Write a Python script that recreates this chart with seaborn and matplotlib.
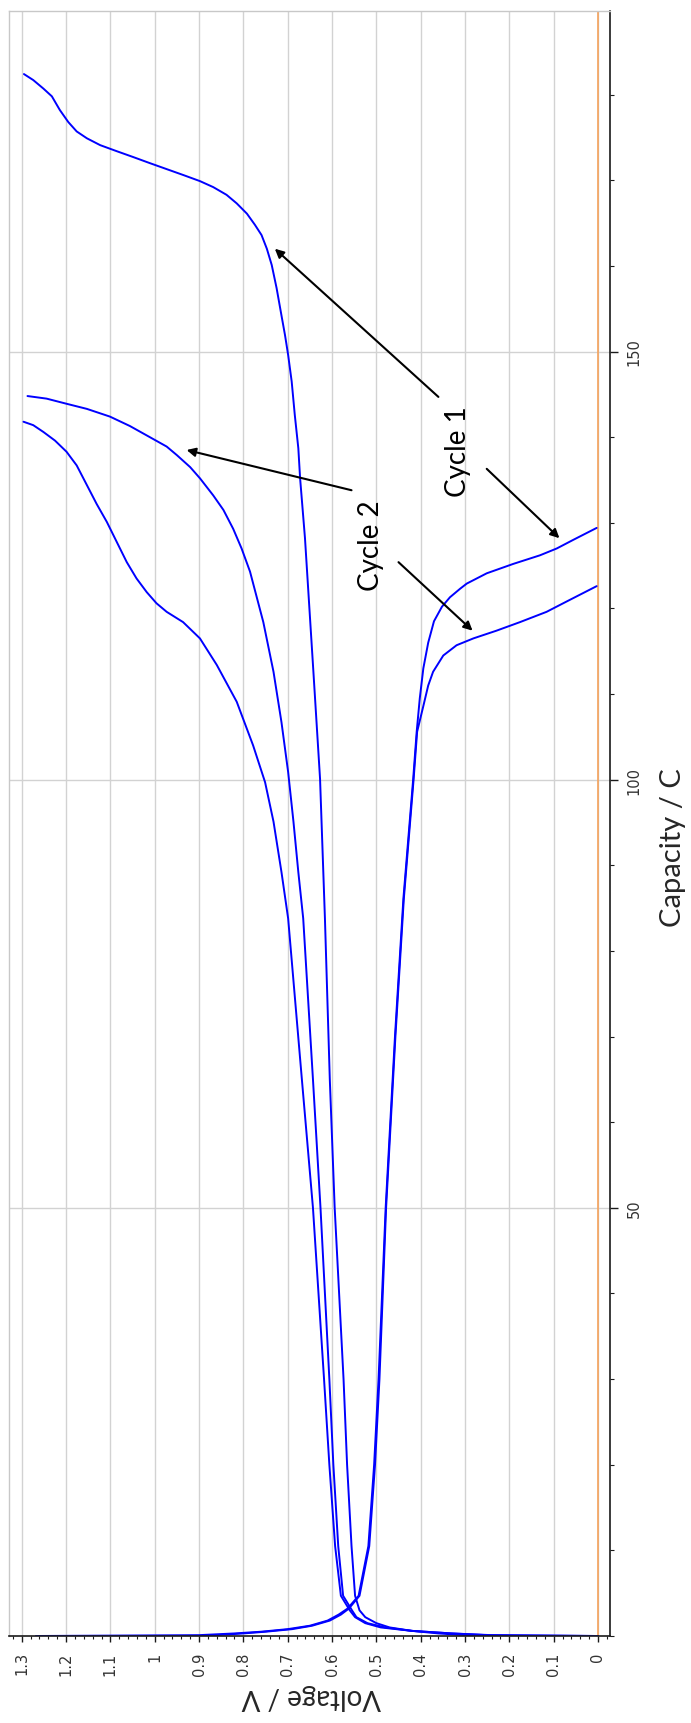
import numpy as np
import pandas as pd
import matplotlib
matplotlib.use("Agg")
import matplotlib.pyplot as plt
from matplotlib.ticker import MultipleLocator, FixedLocator
import seaborn as sns

# ---- charge / discharge curves: capacity (C) and voltage (V) ----
c1_charge_cap = [0, 0.1, 0.3, 0.6, 1.0, 1.5, 2.2, 3.0, 4.7, 10.5, 20, 30, 50, 65, 83.8,
                 100.1, 112.6, 128.2, 135.2, 138.7, 142.6, 146.5, 149.6, 151.9, 154.2,
                 157.4, 160.1, 162.0, 163.6, 164.8, 166.1, 167.3, 168.3, 169.2, 169.9,
                 170.6, 171.3, 172.0, 172.7, 173.4, 174.1, 174.9, 175.7, 176.8, 178.2,
                 179.8, 180.7, 181.7, 182.4]
c1_charge_volt = [0.245, 0.30, 0.36, 0.42, 0.47, 0.50, 0.525, 0.538, 0.548, 0.556, 0.566,
                  0.574, 0.594, 0.605, 0.616, 0.627, 0.642, 0.661, 0.672, 0.676, 0.684,
                  0.691, 0.699, 0.706, 0.714, 0.725, 0.736, 0.747, 0.759, 0.774, 0.792,
                  0.815, 0.838, 0.868, 0.898, 0.935, 0.973, 1.011, 1.048, 1.086, 1.123,
                  1.153, 1.176, 1.195, 1.214, 1.232, 1.251, 1.274, 1.295]

c2_charge_cap = [0, 0.1, 0.3, 0.6, 1.0, 1.5, 2.2, 3.0, 4.7, 10.5, 20, 30, 50, 65, 83.8,
                 89.2, 95.1, 100.9, 106.7, 112.6, 118.4, 124.3, 127.0, 129.3, 131.5,
                 133.2, 135.2, 136.5, 137.9, 138.9, 140.0, 141.3, 142.4, 143.3, 143.9,
                 144.5, 144.8]
c2_charge_volt = [0.0, 0.25, 0.33, 0.42, 0.48, 0.52, 0.545, 0.555, 0.575, 0.586, 0.597,
                  0.606, 0.626, 0.643, 0.665, 0.676, 0.687, 0.699, 0.714, 0.732, 0.755,
                  0.785, 0.804, 0.823, 0.845, 0.868, 0.898, 0.920, 0.950, 0.973, 1.011,
                  1.056, 1.101, 1.153, 1.199, 1.244, 1.287]

c3_charge_cap = [0, 0.1, 0.3, 0.6, 1.0, 1.5, 2.2, 3.0, 4.7, 10.5, 20, 30, 50, 65, 83.8,
                 89.2, 95.1, 99.7, 104.0, 109.1, 113.4, 116.5, 118.4, 119.6, 120.6,
                 121.9, 123.5, 125.4, 127.8, 130.1, 132.2, 134.4, 135.2, 136.7, 138.3,
                 139.6, 140.6, 141.4, 141.8]
c3_charge_volt = [0.0, 0.24, 0.33, 0.42, 0.49, 0.525, 0.548, 0.56, 0.58, 0.593, 0.606,
                  0.618, 0.643, 0.668, 0.699, 0.714, 0.732, 0.751, 0.778, 0.815, 0.860,
                  0.898, 0.936, 0.973, 0.996, 1.018, 1.041, 1.063, 1.086, 1.108, 1.131,
                  1.153, 1.161, 1.176, 1.199, 1.225, 1.251, 1.274, 1.296]

c1_discharge_cap = [0, 0.1, 0.3, 0.5, 0.8, 1.2, 1.8, 2.5, 3.2, 4.7, 10.5, 20, 30, 50, 70,
                    86.1, 100, 105.6, 109.5, 113.0, 116.0, 118.5, 120.2, 121.3, 122.3,
                    122.9, 124.1, 125.2, 126.2, 127.0, 128.0, 129.4]
c1_discharge_volt = [1.268, 0.90, 0.82, 0.76, 0.70, 0.65, 0.61, 0.585, 0.565, 0.54, 0.518,
                     0.505, 0.495, 0.479, 0.458, 0.439, 0.417, 0.409, 0.402, 0.394, 0.383,
                     0.370, 0.352, 0.334, 0.311, 0.296, 0.251, 0.191, 0.131, 0.093, 0.056,
                     0.003]

c2_discharge_cap = [0, 0.1, 0.3, 0.5, 0.8, 1.2, 1.8, 2.5, 3.2, 4.7, 10.5, 20, 30, 50, 70,
                    86.1, 100, 105.6, 108.6, 111.0, 112.6, 114.5, 115.7, 116.5, 117.4,
                    118.4, 119.6, 120.8, 122.6]
c2_discharge_volt = [0.89, 0.86, 0.80, 0.75, 0.69, 0.645, 0.605, 0.58, 0.562, 0.538, 0.516,
                     0.503, 0.493, 0.478, 0.457, 0.438, 0.416, 0.408, 0.394, 0.383, 0.372,
                     0.349, 0.319, 0.281, 0.229, 0.176, 0.116, 0.071, 0.003]

volt_ticks = [0, 0.1, 0.2, 0.3, 0.4, 0.5, 0.6, 0.7, 0.8, 0.9, 1.0, 1.1, 1.2, 1.3]
volt_tick_labels = ["0", "0.1", "0.2", "0.3", "0.4", "0.5", "0.6", "0.7", "0.8", "0.9",
                    "1", "1.1", "1.2", "1.3"]
cap_ticks = [50, 100, 150]
cap_tick_labels = ["50", "100", "150"]

curves = {
    "charge 1": (c1_charge_cap, c1_charge_volt),
    "charge 2": (c2_charge_cap, c2_charge_volt),
    "charge 3": (c3_charge_cap, c3_charge_volt),
    "discharge 1": (c1_discharge_cap, c1_discharge_volt),
    "discharge 2": (c2_discharge_cap, c2_discharge_volt),
}
df = pd.concat(
    [pd.DataFrame({"curve": name, "capacity": cap, "voltage": volt})
     for name, (cap, volt) in curves.items()],
    ignore_index=True,
)

sns.set_style("white")
plt.rcParams["font.family"] = ["DejaVu Sans"]

W, H = 691, 1724
fig = plt.figure(figsize=(W / 100, H / 100), dpi=100)
left_px, right_px, top_px, bottom_px = 9, 610, 11.7, 1637
ax = fig.add_axes([left_px / W, 1 - bottom_px / H,
                   (right_px - left_px) / W, (bottom_px - top_px) / H])

# voltage runs right-to-left, capacity bottom-to-top
ax.set_xlim(1.3287, -0.0271)
ax.set_ylim(0, 189.8)

ax.set_axisbelow(True)
ax.grid(True, which="major", color="#D2D2D2", lw=1.0)
ax.axvline(0, color="#F5A35C", lw=1.2, zorder=1.5)

sns.lineplot(data=df, x="voltage", y="capacity", units="curve", estimator=None,
             sort=False, color="#0000FF", lw=1.4, ax=ax, legend=False)

# axes frame
for side in ("left", "top"):
    ax.spines[side].set_color("#C8C8C8")
    ax.spines[side].set_linewidth(1.0)
for side in ("right", "bottom"):
    ax.spines[side].set_color("#1A1A1A")
    ax.spines[side].set_linewidth(1.2)

# voltage axis (bottom)
ax.xaxis.set_major_locator(FixedLocator(volt_ticks))
ax.set_xticklabels(volt_tick_labels)
ax.xaxis.set_minor_locator(MultipleLocator(0.02))
ax.tick_params(axis="x", which="major", bottom=True, length=4, width=1.0, pad=7,
               labelsize=10.5, labelcolor="#333333", color="#1A1A1A", direction="out")
ax.tick_params(axis="x", which="minor", bottom=True, length=2.5, width=0.8,
               color="#1A1A1A", direction="out")
for lab in ax.get_xticklabels():
    lab.set_rotation(90)
    lab.set_va("top")
    lab.set_ha("center")

# capacity axis (right)
ax.yaxis.tick_right()
ax.yaxis.set_major_locator(FixedLocator(cap_ticks))
ax.set_yticklabels(cap_tick_labels)
ax.yaxis.set_minor_locator(MultipleLocator(10))
ax.tick_params(axis="y", which="major", right=True, left=False, length=6, width=1.0,
               pad=6, labelsize=10.5, labelcolor="#333333", color="#1A1A1A",
               direction="out")
ax.tick_params(axis="y", which="minor", right=True, left=False, length=3, width=0.8,
               color="#1A1A1A", direction="out")
for lab in ax.get_yticklabels():
    lab.set_rotation(90)
    lab.set_va("center")
    lab.set_ha("left")

label_font = ["Lato", "DejaVu Sans"]
ax.set_xlabel("Voltage / V", rotation=180, fontsize=20, family=label_font,
              ha="center", va="center")
ax.xaxis.set_label_coords((311 - left_px) / (right_px - left_px),
                          -(1697 - bottom_px) / (bottom_px - top_px))
ax.yaxis.set_label_position("right")
ax.set_ylabel("Capacity / C", rotation=90, fontsize=21, family=label_font,
              ha="center", va="center")
ax.yaxis.set_label_coords((673 - left_px) / (right_px - left_px),
                          (bottom_px - 848) / (bottom_px - top_px))

# cycle annotations
ax.text(0.316, 138.4, "Cycle 1", rotation=90, ha="center", va="center",
        fontsize=20, family=label_font, color="black")
ax.text(0.511, 127.5, "Cycle 2", rotation=90, ha="center", va="center",
        fontsize=20, family=label_font, color="black")

arrow_kw = dict(arrowstyle="-|>", color="black", lw=1.5, mutation_scale=13,
                shrinkA=0, shrinkB=0)
arrows = [((0.360, 144.7), (0.729, 162.0)),
          ((0.251, 136.3), (0.087, 128.2)),
          ((0.556, 133.8), (0.928, 138.5)),
          ((0.450, 125.4), (0.283, 117.4))]
for tail, head in arrows:
    ax.annotate("", xy=head, xytext=tail, arrowprops=arrow_kw)

fig.savefig("out.png", dpi=100, facecolor="white")
